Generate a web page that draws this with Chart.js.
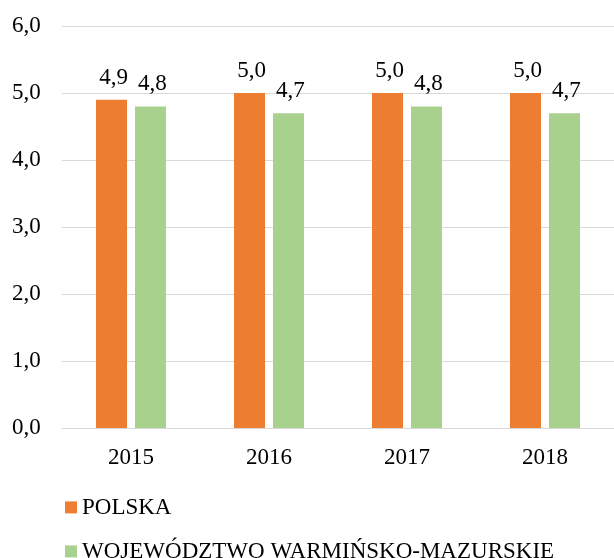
<!DOCTYPE html>
<html>
<head>
<meta charset="utf-8">
<script src="https://cdn.jsdelivr.net/npm/chart.js@4.4.0/dist/chart.umd.min.js"></script>
<style>
  html, body { margin: 0; padding: 0; background: #fff; }
  #wrap { width: 614px; height: 558px; }
</style>
</head>
<body>
<div id="wrap"><canvas id="myChart" width="614" height="558"></canvas></div>
<script>
// ---------------- data ----------------
var years = ["2015", "2016", "2017", "2018"];
var polska = [4.9, 5.0, 5.0, 5.0];
var warminsko = [4.8, 4.7, 4.8, 4.7];
var seriesNames = ["POLSKA", "WOJEWÓDZTWO WARMIŃSKO-MAZURSKIE"];
var yTicks = [0, 1, 2, 3, 4, 5, 6];

var FONT = '"Liberation Serif", "Times New Roman", serif';

function fmt(v) {
    return v.toFixed(1).replace(".", ",");
}

// values above bars
var valueLabels = {
    id: "valueLabels",
    afterDatasetsDraw: function (chart) {
        var ctx = chart.ctx;
        ctx.save();
        ctx.font = "23px " + FONT;
        ctx.fillStyle = "#000";
        ctx.textAlign = "center";
        ctx.textBaseline = "alphabetic";
        chart.data.datasets.forEach(function (ds, i) {
            chart.getDatasetMeta(i).data.forEach(function (bar, j) {
                ctx.fillText(fmt(ds.data[j]), bar.x + 2, bar.y - 16);
            });
        });
        ctx.restore();
    }
};

// legend: one series per line under the chart
var stackedLegend = {
    id: "stackedLegend",
    afterDraw: function (chart) {
        var ctx = chart.ctx;
        var area = chart.chartArea;
        ctx.save();
        ctx.font = "23px " + FONT;
        ctx.textBaseline = "middle";
        ctx.textAlign = "left";
        chart.data.datasets.forEach(function (ds, i) {
            var cy = area.bottom + 79 + i * 44;
            var x = area.left + 3;
            ctx.fillStyle = ds.backgroundColor;
            ctx.fillRect(x, cy - 6, 12, 12);
            ctx.fillStyle = "#000";
            ctx.fillText(ds.label, x + 17, cy + 1);
        });
        ctx.restore();
    }
};

var ctx = document.getElementById("myChart");

new Chart(ctx, {
    type: "bar",
    data: {
        labels: years,
        datasets: [
            {
                label: seriesNames[0],
                data: polska,
                backgroundColor: "#ED7D31",
                barPercentage: 0.795,
                categoryPercentage: 0.565
            },
            {
                label: seriesNames[1],
                data: warminsko,
                backgroundColor: "#A9D18E",
                barPercentage: 0.795,
                categoryPercentage: 0.565
            }
        ]
    },
    options: {
        responsive: false,
        animation: false,
        layout: {
            padding: { left: 12, right: 0, top: 26, bottom: 70 }
        },
        plugins: {
            legend: { display: false },
            tooltip: { enabled: false }
        },
        scales: {
            x: {
                grid: { display: false, drawTicks: false },
                border: { display: true, color: "#D9D9D9", width: 1 },
                ticks: {
                    padding: 16,
                    color: "#000",
                    font: { family: FONT, size: 23 }
                }
            },
            y: {
                min: 0,
                max: 6,
                afterFit: function (scale) { scale.width = 50; },
                afterBuildTicks: function (scale) {
                    scale.ticks = yTicks.map(function (v) { return { value: v }; });
                },
                grid: { color: "#D9D9D9", drawTicks: false },
                border: { display: false },
                ticks: {
                    padding: 0,
                    crossAlign: "far",
                    color: "#000",
                    font: { family: FONT, size: 23 },
                    callback: function (v) { return fmt(v); }
                }
            }
        }
    },
    plugins: [valueLabels, stackedLegend]
});
</script>
</body>
</html>
